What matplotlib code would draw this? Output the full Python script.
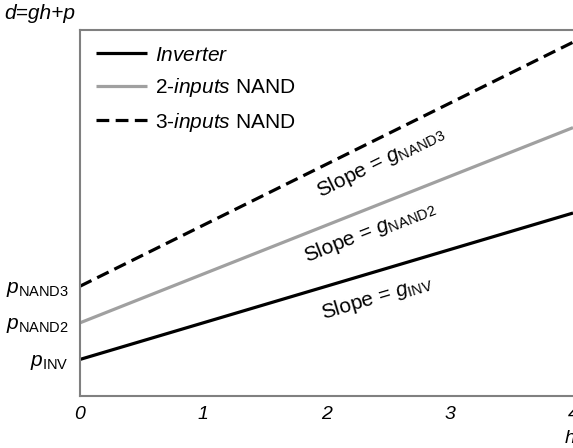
import matplotlib
matplotlib.use("Agg")
import matplotlib.pyplot as plt
import numpy as np

plt.rcParams['font.family'] = ['Liberation Sans', 'DejaVu Sans']
plt.rcParams['mathtext.fontset'] = 'custom'
plt.rcParams['mathtext.rm'] = 'Liberation Sans'
plt.rcParams['mathtext.it'] = 'Liberation Sans:italic'
plt.rcParams['mathtext.bf'] = 'Liberation Sans:bold'

# logical effort model d = g*h + p
h = [0, 4]
gates = ['Inverter', '2-inputs NAND', '3-inputs NAND']
g_vals = [1.0, 4 / 3, 5 / 3]
p_vals = [1.0, 2.0, 3.0]
legend_labels = [r'$\mathit{Inverter}$', r'$\mathit{2\text{-}inputs}$ NAND', r'$\mathit{3\text{-}inputs}$ NAND']
ytick_labels = [r'$\mathit{p}_{\mathrm{INV}}$', r'$\mathit{p}_{\mathrm{NAND2}}$', r'$\mathit{p}_{\mathrm{NAND3}}$']
slope_labels = [r'Slope = $\mathit{g}_{\mathrm{INV}}$', r'Slope = $\mathit{g}_{\mathrm{NAND2}}$',
                r'Slope = $\mathit{g}_{\mathrm{NAND3}}$']
slope_pos = [(2.41, 2.70), (2.35, 4.48), (2.44, 6.39)]

colors = ['black', '#a0a0a0', 'black']
styles = ['-', '-', '--']

fig = plt.figure(figsize=(5.73, 4.48), dpi=100)
ax = fig.add_axes([0.1396, 0.116, 0.8604, 0.817])

for i in range(3):
    d = [g_vals[i] * x + p_vals[i] for x in h]
    ax.plot(h, d, color=colors[i], linestyle=styles[i], linewidth=2.3,
            label=legend_labels[i], dashes=(4, 2) if styles[i] == '--' else (None, None),
            solid_capstyle='butt')

ax.set_xlim(0, 4)
ax.set_ylim(0, 10)

# rotate slope labels along the lines (display angle)
fig.canvas.draw()
for i in range(3):
    p0 = ax.transData.transform((0, p_vals[i]))
    p1 = ax.transData.transform((4, g_vals[i] * 4 + p_vals[i]))
    ang = np.degrees(np.arctan2(p1[1] - p0[1], p1[0] - p0[0]))
    ax.text(slope_pos[i][0], slope_pos[i][1], slope_labels[i], rotation=ang,
            rotation_mode='anchor', ha='center', va='center', fontsize=15)

ax.set_xticks([0, 1, 2, 3, 4])
ax.set_xticklabels(['0', '1', '2', '3', '4'], fontstyle='italic', fontsize=14)
ax.set_yticks(p_vals)
ax.set_yticklabels(ytick_labels, fontsize=15)
ax.tick_params(axis='both', length=0)
ax.tick_params(axis='x', pad=7)
ax.tick_params(axis='y', pad=8)

for s in ['left', 'bottom', 'top']:
    ax.spines[s].set_color('#808080')
    ax.spines[s].set_linewidth(1.5)
ax.spines['right'].set_visible(False)

fig.text(0.008, 0.97, 'd=gh+p', fontstyle='italic', fontsize=15, ha='left', va='center')
fig.text(0.985, 0.022, 'h', fontstyle='italic', fontsize=14, ha='left', va='center')

ax.legend(loc='upper left', frameon=False, fontsize=15, handlelength=2.45,
          labelspacing=0.55, borderaxespad=0.35, handletextpad=0.4, borderpad=0.4)

fig.savefig('out.png', dpi=100)
